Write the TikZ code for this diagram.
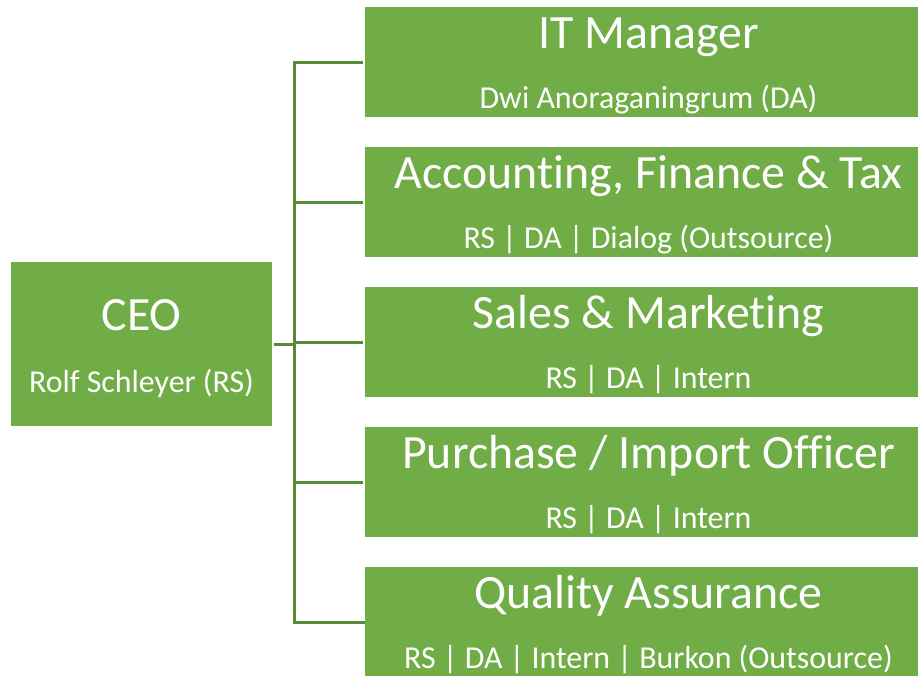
\documentclass[tikz,border=0pt]{standalone}
\usepackage{fontspec}
\setmainfont{Carlito}[Ligatures={NoCommon}]
\usetikzlibrary{calc}
\definecolor{boxgreen}{HTML}{70AD47}
\definecolor{linegreen}{HTML}{578A37}
\begin{document}
\begin{tikzpicture}[x=1pt,y=-1pt,
  box/.style={fill=boxgreen, draw=none, inner sep=0pt, outer sep=0pt, anchor=north west},
  unit/.style={box, minimum width=567pt, minimum height=109.5pt},
  role/.style={text=white, anchor=base, inner sep=0pt, font=\fontsize{47.8}{52}\selectfont},
  who/.style={text=white, anchor=base, inner sep=0pt, font=\fontsize{31.9}{35}\selectfont},
  link/.style={draw=linegreen, line width=3pt}]
\useasboundingbox (0,0) rectangle (918,675);
\clip (0,0) rectangle (918,675);

% head of the organisation
\node[box, minimum width=261pt, minimum height=164pt] (ceo) at (11,262) {};
\node[role] (ceoT) at ($(ceo.north)+(0,68)$) {CEO};
\node[who]  (ceoS) at ($(ceo.north)+(0,130)$) {Rolf Schleyer (RS)};

% departments
\node[unit] (b1) at (365,7.3) {};
\node[unit] (b2) at (365,147.3) {};
\node[unit] (b3) at (365,287.3) {};
\node[unit] (b4) at (365,427.3) {};
\node[unit] (b5) at (365,567.3) {};

\node[role] (t1) at ($(b1.north)+(0,41)$) {IT Manager};
\node[who]  (s1) at ($(b1.north)+(0,101)$) {Dwi Anoraganingrum (DA)};
\node[role] (t2) at ($(b2.north)+(0,41)$) {Accounting, Finance \& Tax};
\node[who]  (s2) at ($(b2.north)+(0,101)$) {RS | DA | Dialog (Outsource)};
\node[role] (t3) at ($(b3.north)+(0,41)$) {Sales \& Marketing};
\node[who]  (s3) at ($(b3.north)+(0,101)$) {RS | DA | Intern};
\node[role] (t4) at ($(b4.north)+(0,41)$) {Purchase / Import Officer};
\node[who]  (s4) at ($(b4.north)+(0,101)$) {RS | DA | Intern};
\node[role] (t5) at ($(b5.north)+(0,41)$) {Quality Assurance};
\node[who]  (s5) at ($(b5.north)+(0,101)$) {RS | DA | Intern | Burkon (Outsource)};

% connectors
\coordinate (spine) at (294,0);
\draw[link, shorten <=2pt] (b1.west) -- (b1.west -| spine) -- (b5.west -| spine) -- (b5.west);
\draw[link, shorten >=2pt] (b2.west -| spine) -- (b2.west);
\draw[link, shorten >=2pt] (b3.west -| spine) -- (b3.west);
\draw[link, shorten >=2pt] (b4.west -| spine) -- (b4.west);
\draw[link, shorten <=2pt] (ceo.east) -- (ceo.east -| spine);
\end{tikzpicture}
\end{document}
